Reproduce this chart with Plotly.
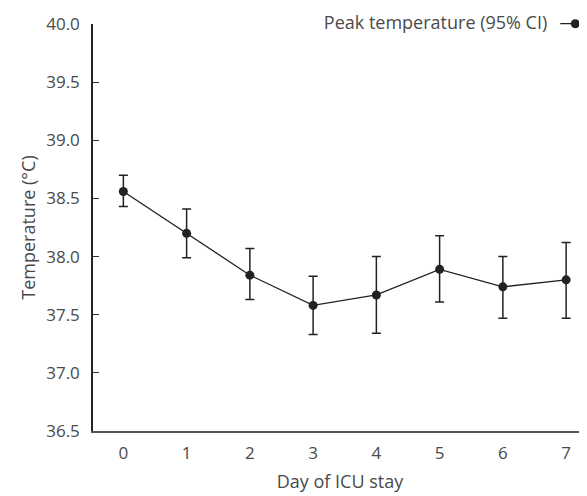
import plotly.graph_objects as go

days = [0, 1, 2, 3, 4, 5, 6, 7]
peak_temp = [38.56, 38.20, 37.84, 37.58, 37.67, 37.89, 37.74, 37.80]
ci_upper = [38.70, 38.41, 38.07, 37.83, 38.00, 38.18, 38.00, 38.12]
ci_lower = [38.43, 37.99, 37.63, 37.33, 37.34, 37.61, 37.47, 37.47]
y_ticks = [36.5, 37.0, 37.5, 38.0, 38.5, 39.0, 39.5, 40.0]

err_plus = [u - m for u, m in zip(ci_upper, peak_temp)]
err_minus = [m - l for m, l in zip(peak_temp, ci_lower)]

ink = "#222222"
txt = "#4a4a4a"
font_family = "'Open Sans', 'Noto Sans', sans-serif"

fig = go.Figure()
fig.add_trace(go.Scatter(
    x=days, y=peak_temp, mode="lines+markers", name="",
    line=dict(color=ink, width=1.3),
    marker=dict(color=ink, size=9),
    error_y=dict(type="data", symmetric=False, array=err_plus, arrayminus=err_minus,
                 color=ink, thickness=1.5, width=4.5),
    showlegend=True,
))

fig.update_layout(
    width=587, height=496,
    margin=dict(l=85, r=8, t=16, b=73, autoexpand=False),
    paper_bgcolor="white", plot_bgcolor="white",
    font=dict(family=font_family, size=17, color=txt),
    legend=dict(
        title=dict(text="Peak temperature (95% CI)", side="left",
                   font=dict(family=font_family, size=18, color=txt)),
        x=1.028, xanchor="right", y=1.0, yanchor="middle",
        bgcolor="rgba(0,0,0,0)", itemwidth=30,
        font=dict(family=font_family, size=18, color=txt),
    ),
    xaxis=dict(
        range=[-0.48, 7.33], tickvals=days, ticks="outside", ticklen=6,
        tickcolor="rgba(0,0,0,0)", showgrid=False, zeroline=False, automargin=False,
        showline=True, linecolor="#555555", linewidth=1.5,
        tickfont=dict(family=font_family, size=17, color=txt),
        title=dict(text="Day of ICU stay", standoff=12,
                   font=dict(family=font_family, size=18, color=txt)),
    ),
    yaxis=dict(
        range=[36.5, 40.0], tickvals=y_ticks, tickformat=".1f", ticks="inside",
        ticklabelstandoff=8, automargin=False,
        ticklen=6, tickcolor="#333333", tickwidth=1.2, showgrid=False, zeroline=False,
        showline=True, linecolor="#222222", linewidth=1.5,
        tickfont=dict(family=font_family, size=17, color=txt),
        title=dict(text="Temperature (°C)", standoff=6,
                   font=dict(family=font_family, size=18, color=txt)),
    ),
)

fig.write_html("out.html")
